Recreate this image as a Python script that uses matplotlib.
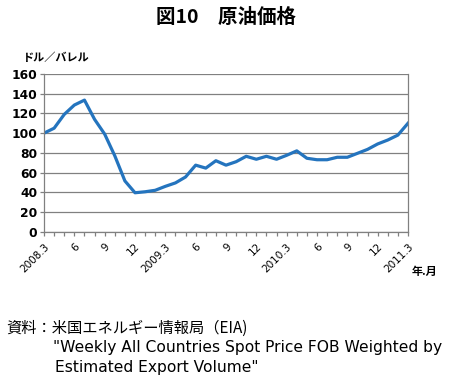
import matplotlib
matplotlib.use("Agg")
import matplotlib.pyplot as plt
import numpy as np

plt.rcParams['font.family'] = ['Noto Sans CJK JP', 'DejaVu Sans']

months = ["2008.3", "", "", "6", "", "", "9", "", "", "12", "", "",
          "2009.3", "", "", "6", "", "", "9", "", "", "12", "", "",
          "2010.3", "", "", "6", "", "", "9", "", "", "12", "", "",
          "2011.3"]
prices = [100, 105, 119, 128.5, 133.5, 114, 99, 77, 51.5, 39.5, 40.5, 42, 46,
          49.5, 55.5, 67.5, 64.5, 72, 67.5, 71, 76.5, 73.5, 76.5, 73.5, 77.5,
          82, 74.5, 73, 73, 75.5, 75.5, 79.5, 83.5, 89, 93, 98, 110]
yticks = [0, 20, 40, 60, 80, 100, 120, 140, 160]

fig = plt.figure(figsize=(4.51, 3.82), dpi=100)
ax = fig.add_axes([0.0976, 0.3935, 0.807, 0.4128])
x = np.arange(len(prices))
ax.plot(x, prices, color='#2474BE', lw=2.3, solid_joinstyle='round')
ax.set_xlim(0, len(prices) - 1)
ax.set_ylim(0, 160)
ax.set_yticks(yticks)
ax.set_yticklabels([str(v) for v in yticks], fontsize=8.8, fontweight='bold',
                   family=['DejaVu Sans'])
ax.set_xticks(x)
ax.set_xticklabels(months, rotation=45, ha='right', va='top', fontsize=7.5,
                   rotation_mode='anchor', family=['DejaVu Sans'])
ax.grid(axis='y', color='#808080', lw=0.9)
ax.set_axisbelow(True)
for s in ax.spines.values():
    s.set_color('#808080')
    s.set_linewidth(0.9)
ax.spines['top'].set_visible(False)
ax.tick_params(axis='both', color='#808080', length=3, width=0.9, pad=2)
ax.tick_params(axis='x', pad=4)

fig.text(0.5, 0.955, "図10　原油価格", ha='center', va='center', fontsize=14, fontweight='bold')
fig.text(0.05, 0.85, "ドル／バレル", ha='left', va='center', fontsize=8, fontweight='bold')
fig.text(0.942, 0.29, "年.月", ha='center', va='center', fontsize=8, fontweight='bold')
fig.text(0.013, 0.14, "資料：米国エネルギー情報局（EIA)", ha='left', va='center', fontsize=11)
fig.text(0.118, 0.09, "\"Weekly All Countries Spot Price FOB Weighted by", ha='left', va='center',
         fontsize=11.2, family=['DejaVu Sans'])
fig.text(0.122, 0.037, "Estimated Export Volume\"", ha='left', va='center', fontsize=11.2,
         family=['DejaVu Sans'])

fig.savefig("out.png", dpi=100)
